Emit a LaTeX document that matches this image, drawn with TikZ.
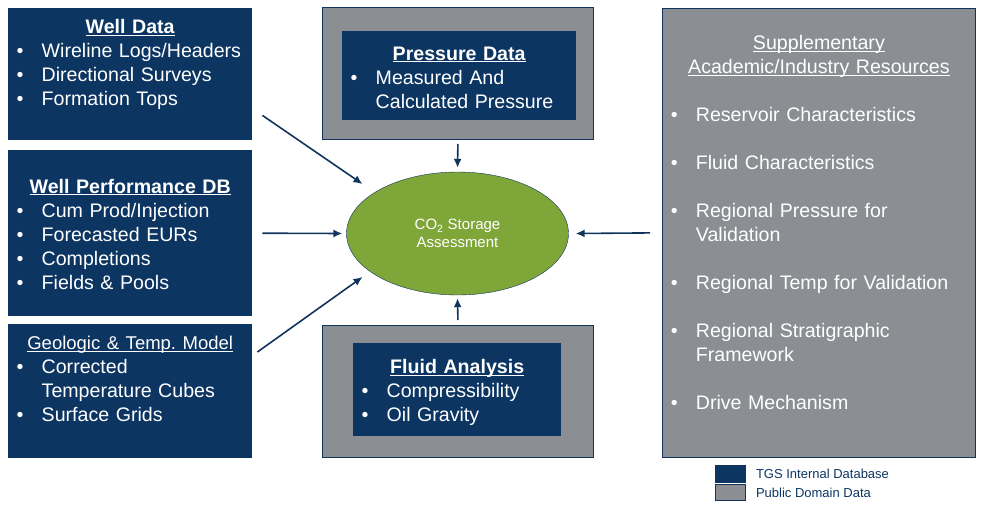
\documentclass[tikz,border=0pt]{standalone}
\usepackage{fontspec}
\setmainfont{Liberation Sans}
\usetikzlibrary{arrows.meta, positioning, shapes.geometric}
\definecolor{tgsnavy}{RGB}{12,53,98}
\definecolor{tgsgray}{RGB}{139,142,146}
\definecolor{tgsgreen}{RGB}{127,166,57}
\definecolor{tgsline}{RGB}{16,52,92}
\frenchspacing
\newlength{\bulind}
\setlength{\bulind}{25pt}
\newcommand{\bul}{\par\noindent\hangindent=\bulind\hangafter=1\makebox[\bulind][l]{\textbullet}}
\newcommand{\hdul}[1]{\underline{\smash{#1}}}
\newcommand{\hd}[1]{{\centering #1\par}}
\tikzset{
  infobox/.style={
    fill=tgsnavy,
    anchor=north west,
    inner xsep=8.5pt,
    inner ysep=6pt,
    text=white,
    font=\fontsize{19.6}{24}\selectfont\raggedright
  },
  pubbox/.style={
    infobox,
    fill=tgsgray,
    draw=tgsline,
    line width=0.8pt
  },
  frame/.style={
    fill=tgsgray,
    draw=tgsline,
    line width=0.8pt,
    anchor=north west,
    inner sep=0pt,
    minimum width=271pt,
    minimum height=132pt
  },
  co2blob/.style={
    ellipse,
    draw=tgsline,
    fill=tgsgreen,
    minimum width=222pt,
    minimum height=123pt,
    inner sep=0pt,
    align=center,
    text=white,
    font=\fontsize{15}{18}\selectfont
  },
  feed/.style={-{Latex[length=9pt,width=8pt]}, line width=1.6pt, draw=tgsline},
  legswatch/.style={draw=tgsline, line width=0.8pt, anchor=north west, inner sep=0pt, minimum width=30pt},
  legtext/.style={inner sep=0pt, text=tgsnavy, font=\fontsize{13}{15}\selectfont}
}
\begin{document}
\begin{tikzpicture}[x=1pt,y=-1pt]
  \useasboundingbox (0,0) rectangle (982,509);

  % internal database boxes
  \node[infobox, text width=227pt, text height=19.5pt, text depth=100.5pt] (welldata) at (8,8) {%
    \hd{\hdul{\textbf{Well Data}}}
    \bul Wireline Logs/Headers
    \bul Directional Surveys
    \bul Formation Tops\par};
  \node[infobox, text width=227pt, text height=37pt, text depth=117pt] (wellperf) at (8,150) {%
    \hd{\hdul{\textbf{Well Performance DB}}}
    \bul Cum Prod/Injection
    \bul Forecasted EURs
    \bul Completions
    \bul Fields \& Pools\par};
  \node[infobox, text width=227pt, text height=19.3pt, text depth=102.7pt] (geomodel) at (8,324) {%
    \hd{{\fontsize{18.5}{24}\selectfont\hdul{Geologic \& Temp. Model}}}
    \bul Corrected\newline Temperature Cubes
    \bul Surface Grids\par};

  % framed boxes
  \node[frame] (pressframe) at (322,7) {};
  \node[infobox, text width=217pt, text height=23pt, text depth=54pt] (pressdata) at (342,31) {%
    \hd{\hdul{\textbf{Pressure Data}}}
    \bul Measured And\newline Calculated Pressure\par};
  \node[frame] (fluidframe) at (322,325) {};
  \node[infobox, text width=191pt, text height=24.3pt, text depth=56.7pt] (fluiddata) at (353,343) {%
    \hd{\hdul{\textbf{Fluid Analysis}}}
    \bul Compressibility
    \bul Oil Gravity\par};

  % public domain resources
  \node[pubbox, text width=296pt, text height=35.3pt, text depth=401.7pt] (supp) at (662,8) {%
    \hd{\hdul{Supplementary}\\\hdul{Academic/Industry Resources}}
    \setlength{\parskip}{24pt}%
    \bul Reservoir Characteristics
    \bul Fluid Characteristics
    \bul Regional Pressure for\newline Validation
    \bul Regional Temp for Validation
    \bul Regional Stratigraphic\newline Framework
    \bul Drive Mechanism\par};

  \node[co2blob] (co2) at (457.5,233.5) {CO\textsubscript{2} Storage\\Assessment};

  \draw[feed] ([xshift=10pt,yshift=25pt]welldata.south east) -- ([xshift=-95pt,yshift=49.5pt]co2.center);
  \draw[feed] ([xshift=10pt]wellperf.east) -- ([xshift=-4pt]co2.west);
  \draw[feed] ([xshift=5pt,yshift=-28pt]geomodel.north east) -- ([xshift=-95pt,yshift=-43.5pt]co2.center);
  \draw[feed] ([yshift=-4pt]pressframe.south) -- ([yshift=4pt]co2.north);
  \draw[feed] ([yshift=5pt]fluidframe.north) -- ([yshift=-3pt]co2.south);
  \draw[feed] ([xshift=-12pt]supp.west) -- ([xshift=7pt]co2.east);

  % legend
  \node[legswatch, fill=tgsnavy, minimum height=17pt] (legtgs) at (715,465) {};
  \node[legswatch, fill=tgsgray, minimum height=16pt] (legpub) at (715,484) {};
  \node[legtext, right=10pt of legtgs] (legtgslabel) {TGS Internal Database};
  \node[legtext, right=10pt of legpub] (legpublabel) {Public Domain Data};
\end{tikzpicture}
\end{document}
